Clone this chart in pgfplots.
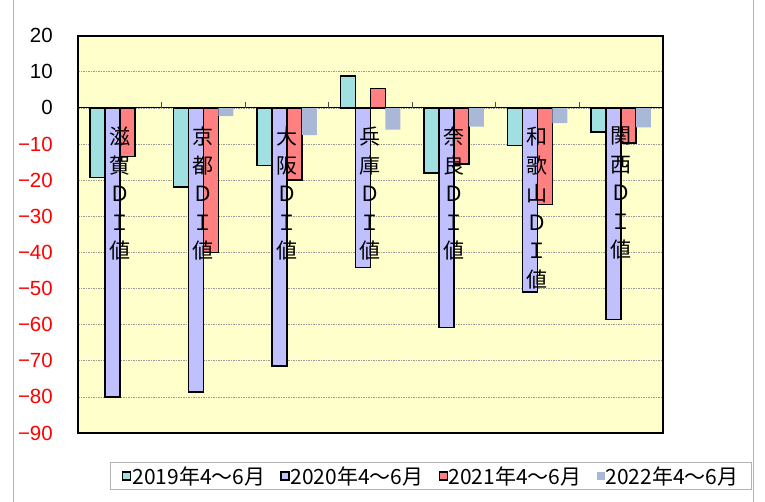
\documentclass[border=0pt]{standalone}
\usepackage{pgfplots}
\pgfplotsset{compat=1.18}
\usepackage{fontspec}
\setmainfont{Liberation Sans}
\newfontfamily\cjk{Noto Sans CJK JP}
\definecolor{c19}{HTML}{A0E0E0}
\definecolor{c20}{HTML}{C0C0FF}
\definecolor{c21}{HTML}{FF8080}
\definecolor{c22}{HTML}{AAB8D8}
\definecolor{plotbg}{HTML}{FFFFCC}
\tikzset{cat/.style={anchor=north, inner sep=0pt, align=center, yshift=-19pt,
      font=\cjk\fontsize{21}{28.5}\selectfont}}

\begin{document}
\begin{tikzpicture}
\path[use as bounding box] (0pt,0pt) rectangle (765pt,-502pt);
\draw[gray!60, line width=1pt] (13pt,0pt) -- (13pt,-502pt);
\draw[gray!60, line width=1pt] (753pt,0pt) -- (753pt,-502pt);
\begin{axis}[
    at={(78pt,-433pt)}, anchor=south west,
    scale only axis, width=584.7pt, height=397.3pt,
    xmin=-0.5, xmax=6.5, ymin=-90, ymax=20,
    axis background/.style={fill=plotbg},
    axis line style={line width=1.6pt},
    xtick=\empty,
    ytick={-90,-80,...,20},
    yticklabels={\textcolor{red}{−90},\textcolor{red}{−80},\textcolor{red}{−70},
      \textcolor{red}{−60},\textcolor{red}{−50},\textcolor{red}{−40},
      \textcolor{red}{−30},\textcolor{red}{−20},\textcolor{red}{−10},0,10,20},
    yticklabel style={font=\fontsize{20.5}{24}\selectfont, anchor=east, inner sep=0pt, xshift=-25pt},
    ytick style={draw=none},
    ymajorgrids,
    major grid style={gray!80, dash pattern=on 1.5pt off 1pt, line width=0.7pt},
    ybar=0pt, bar width=15pt,
    legend columns=4,
    legend style={at={(0.0547,-0.073)}, anchor=north west,
      draw=gray!60, line width=0.8pt, inner xsep=12pt, inner ysep=3pt,
      font=\cjk\fontsize{21}{25}\selectfont,
      nodes={inner sep=1pt}},
]
\addplot[fill=c19, draw=black, line width=1.5pt, bar shift=-22.5pt,
  legend image code/.code={\draw[fill=c19,draw=black,line width=1.1pt] (0pt,-4pt) rectangle (8pt,4pt);}]
  coordinates {(0,-19.3) (1,-21.9) (2,-16.0) (3,8.9) (4,-18.0) (5,-10.4) (6,-6.6)};
\addlegendentry{\makebox[147pt][l]{2019年4～6月}}
\addplot[fill=c20, draw=black, line width=1.5pt, bar shift=-7.5pt,
  legend image code/.code={\draw[fill=c20,draw=black,line width=1.1pt] (0pt,-4pt) rectangle (8pt,4pt);}]
  coordinates {(0,-80.1) (1,-78.7) (2,-71.4) (3,-44.2) (4,-60.8) (5,-50.9) (6,-58.6)};
\addlegendentry{\makebox[147pt][l]{2020年4～6月}}
\addplot[fill=c21, draw=black, line width=1.5pt, bar shift=7.5pt,
  legend image code/.code={\draw[fill=c21,draw=black,line width=1.1pt] (0pt,-4pt) rectangle (8pt,4pt);}]
  coordinates {(0,-13.5) (1,-40.0) (2,-19.9) (3,5.4) (4,-15.5) (5,-26.8) (6,-9.7)};
\addlegendentry{\makebox[147pt][l]{2021年4～6月}}
\addplot[fill=c22, draw=none, bar shift=22.5pt,
  legend image code/.code={\fill[c22] (0pt,-4pt) rectangle (8pt,4pt);}]
  coordinates {(0,0) (1,-2.3) (2,-7.5) (3,-6.0) (4,-5.2) (5,-4.2) (6,-5.4)};
\addlegendentry{2022年4～6月}
\draw[black, line width=1.1pt] (axis cs:-0.5,0) -- (axis cs:6.5,0);
\draw[black!70, line width=0.6pt] (axis cs:0.5,0) -- ++(0pt,6pt);
\draw[black!70, line width=0.6pt] (axis cs:1.5,0) -- ++(0pt,6pt);
\draw[black!70, line width=0.6pt] (axis cs:2.5,0) -- ++(0pt,6pt);
\draw[black!70, line width=0.6pt] (axis cs:3.5,0) -- ++(0pt,6pt);
\draw[black!70, line width=0.6pt] (axis cs:4.5,0) -- ++(0pt,6pt);
\draw[black!70, line width=0.6pt] (axis cs:5.5,0) -- ++(0pt,6pt);
\node[cat] at (axis cs:0,0) {滋\\賀\\Ｄ\\Ｉ\\値};
\node[cat] at (axis cs:1,0) {京\\都\\Ｄ\\Ｉ\\値};
\node[cat] at (axis cs:2,0) {大\\阪\\Ｄ\\Ｉ\\値};
\node[cat] at (axis cs:3,0) {兵\\庫\\Ｄ\\Ｉ\\値};
\node[cat] at (axis cs:4,0) {奈\\良\\Ｄ\\Ｉ\\値};
\node[cat] at (axis cs:5,0) {和\\歌\\山\\Ｄ\\Ｉ\\値};
\node[cat] at (axis cs:6,0) {関\\西\\Ｄ\\Ｉ\\値};
\end{axis}
\end{tikzpicture}
\end{document}
